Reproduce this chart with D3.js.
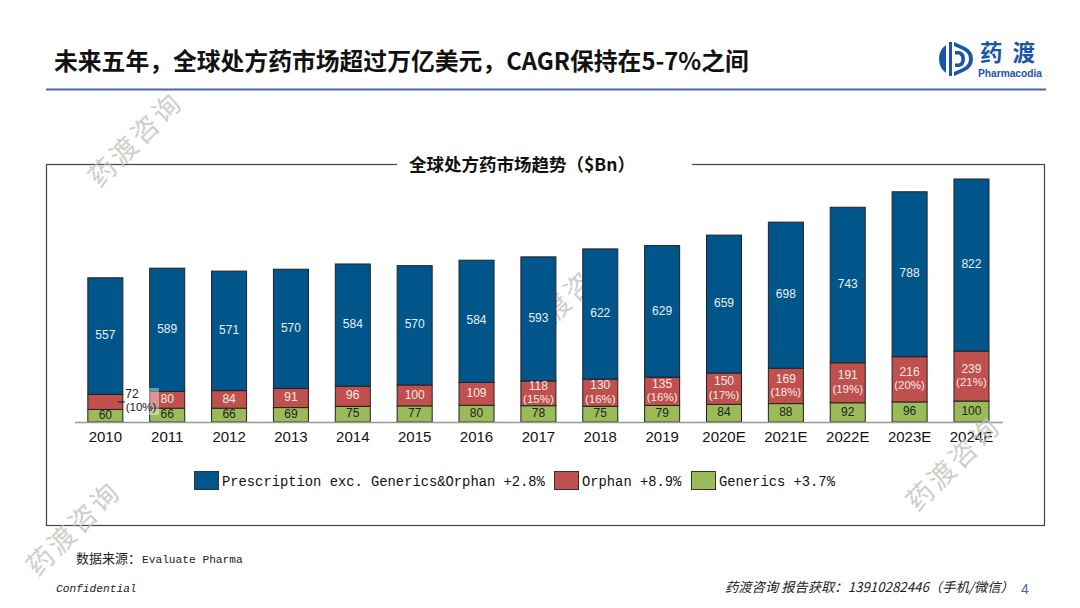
<!DOCTYPE html>
<html lang="zh-CN">
  <head>
    <meta charset="UTF-8" />
    <title>全球处方药市场趋势</title>
    <style>
      html, body { margin: 0; padding: 0; background: #fff; }
      svg { display: block; }
      text { font-family: "Noto Sans CJK SC", "Noto Sans", sans-serif; }
      .latin { font-family: "Liberation Sans", "Noto Sans CJK SC", sans-serif; }
      .mono { font-family: "Liberation Mono", "Noto Sans CJK SC", monospace; }
    </style>
  </head>
  <body>
    <svg width="1080" height="608"></svg>
    <script src="https://cdn.jsdelivr.net/npm/d3@7"></script>
    <script>
      const years = ["2010","2011","2012","2013","2014","2015","2016","2017","2018","2019","2020E","2021E","2022E","2023E","2024E"];
      const generics = [60,66,66,69,75,77,80,78,75,79,84,88,92,96,100];
      const orphan = [72,80,84,91,96,100,109,118,130,135,150,169,191,216,239];
      const prescription = [557,589,571,570,584,570,584,593,622,629,659,698,743,788,822];
      const orphanShare = [10,null,null,null,null,null,null,15,16,16,17,18,19,20,21];
      const seriesNames = ["Generics","Orphan","Prescription"];
      const legendLabels = ["Prescription exc. Generics&Orphan +2.8%","Orphan +8.9%","Generics +3.7%"];

      const colors = { Prescription: "#00558a", Orphan: "#c0504d", Generics: "#9bbb59" };
      const textColors = { Prescription: "#e8f1f6", Orphan: "#fbeaea", Generics: "#222" };

      const svg = d3.select("svg");

      // header
      svg.append("text").attr("x", 54).attr("y", 70)
        .attr("font-size", 23.8).attr("font-weight", 700).attr("fill", "#111")
        .text("未来五年，全球处方药市场超过万亿美元，CAGR保持在5-7%之间");
      svg.append("line").attr("x1", 46).attr("x2", 1046).attr("y1", 89.5).attr("y2", 89.5)
        .attr("stroke", "#4a66ac").attr("stroke-width", 2);

      // logo
      const logo = svg.append("g").attr("transform", "translate(956,59)").attr("fill", "#1a55a8");
      logo.append("path").attr("d", "M-10,-14 L-10,14 Q-17,9 -17,0 Q-17,-9 -10,-14 Z");
      logo.append("path").attr("d", "M-7,-17 L-4,-17 L-4,17 L-7,17 Z");
      logo.append("path").attr("d", "M-2,-17 L9,-12 Q17,-8 17,0 Q17,8 9,12 L-2,17 L-2,13 L7,9 Q13,6 13,0 Q13,-6 7,-9 L-2,-13 Z");
      logo.append("path").attr("d", "M-1,-8 L3,-8 Q9,-7 9,0 Q9,7 3,8 L-1,8 L-1,4.5 L3,4.5 Q5.5,3 5.5,0 Q5.5,-3 3,-4.5 L-1,-4.5 Z");
      svg.append("text").attr("x", 980).attr("y", 61).attr("font-size", 22.5).attr("font-weight", 700)
        .attr("letter-spacing", 10).attr("fill", "#1a55a8").text("药渡");
      svg.append("text").attr("class", "latin").attr("x", 978).attr("y", 77).attr("font-size", 10.2)
        .attr("font-weight", 700).attr("fill", "#1a55a8").text("Pharmacodia");

      // chart frame, with a gap for its title
      svg.append("rect").attr("x", 46.5).attr("y", 164.5).attr("width", 998).attr("height", 361)
        .attr("fill", "none").attr("stroke", "#444").attr("stroke-width", 1.2);
      svg.append("rect").attr("x", 397).attr("y", 158).attr("width", 295).attr("height", 14).attr("fill", "#fff");
      svg.append("text").attr("x", 409).attr("y", 170.5).attr("font-size", 17.5).attr("font-weight", 700)
        .attr("fill", "#111").text("全球处方药市场趋势（$Bn）");

      // watermarks
      function watermark(x, y) {
        svg.append("text").attr("transform", `translate(${x},${y}) rotate(-45)`)
          .attr("text-anchor", "middle").attr("dominant-baseline", "middle")
          .attr("font-size", 27).attr("letter-spacing", 3).attr("fill", "#c4c4bc").attr("opacity", 0.8)
          .text("药渡咨询");
      }
      watermark(570, 298);

      // scales
      const x = d3.scaleBand().domain(years).range([74.4, 1002.4]).paddingInner(0.434).paddingOuter(0.217);
      const totals = years.map((_, i) => generics[i] + orphan[i] + prescription[i]);
      const y = d3.scaleLinear().domain([0, d3.max(totals)]).range([422, 179]);

      const table = years.map((year, i) => ({
        year, Generics: generics[i], Orphan: orphan[i], Prescription: prescription[i], share: orphanShare[i]
      }));
      const stacked = d3.stack().keys(seriesNames)(table);

      const layers = svg.selectAll(".layer").data(stacked).enter().append("g")
        .attr("class", "layer").attr("fill", (d) => colors[d.key]);

      layers.selectAll("rect").data((d) => d).enter().append("rect")
        .attr("x", (d) => x(d.data.year))
        .attr("width", x.bandwidth())
        .attr("y", (d) => y(d[1]))
        .attr("height", (d) => y(d[0]) - y(d[1]))
        .attr("stroke", "#222").attr("stroke-width", 1);

      // value labels
      stacked.forEach((layer) => {
        layer.forEach((d) => {
          const cx = x(d.data.year) + x.bandwidth() / 2;
          const cy = (y(d[0]) + y(d[1])) / 2;
          const value = d.data[layer.key];
          if (layer.key === "Orphan" && d.data.year === "2010") return; // called out beside the bar
          const hasShare = layer.key === "Orphan" && d.data.share !== null;
          svg.append("text").attr("class", "latin")
            .attr("x", cx).attr("y", hasShare ? cy - 6.5 : cy)
            .attr("text-anchor", "middle").attr("dominant-baseline", "middle")
            .attr("font-size", 12).attr("fill", textColors[layer.key]).text(value);
          if (hasShare) {
            svg.append("text").attr("class", "latin")
              .attr("x", cx).attr("y", cy + 7)
              .attr("text-anchor", "middle").attr("dominant-baseline", "middle")
              .attr("font-size", 11.5).attr("fill", textColors[layer.key]).text(`(${d.data.share}%)`);
          }
        });
      });

      // 2010 orphan callout
      const orphan2010 = stacked[1][0];
      const calloutY = (y(orphan2010[0]) + y(orphan2010[1])) / 2;
      const calloutX = x("2010") + x.bandwidth();
      svg.append("line").attr("x1", calloutX - 5).attr("x2", calloutX + 2)
        .attr("y1", calloutY).attr("y2", calloutY).attr("stroke", "#111");
      svg.append("rect").attr("x", 149).attr("y", 388).attr("width", 10).attr("height", 27)
        .attr("fill", "#fff").attr("opacity", 0.4);
      svg.append("text").attr("class", "latin").attr("x", 132).attr("y", 395)
        .attr("text-anchor", "middle").attr("dominant-baseline", "middle")
        .attr("font-size", 12).attr("fill", "#222").text(orphan[0]);
      svg.append("text").attr("class", "latin").attr("x", 141).attr("y", 408)
        .attr("text-anchor", "middle").attr("dominant-baseline", "middle")
        .attr("font-size", 11.5).attr("fill", "#222").text(`(${orphanShare[0]}%)`);

      // x axis
      const axis = svg.append("g").attr("transform", "translate(0,422)")
        .call(d3.axisBottom(x).tickSize(0).tickPadding(8));
      axis.select(".domain").attr("stroke", "#999").attr("stroke-width", 1.5);
      axis.selectAll("text").attr("class", "latin").attr("font-size", 15).attr("fill", "#111")
        .attr("dy", "0.77em")
        .style("font-family", '"Liberation Sans", sans-serif');

      // legend
      const legendX = [194, 554, 691];
      const legendKeys = ["Prescription", "Orphan", "Generics"];
      legendKeys.forEach((key, i) => {
        svg.append("rect").attr("x", legendX[i] + 0.5).attr("y", 471.5).attr("width", 24).attr("height", 18)
          .attr("fill", colors[key]).attr("stroke", "#333");
        svg.append("text").attr("class", "mono").attr("x", legendX[i] + 28).attr("y", 486)
          .attr("font-size", 13.8).attr("fill", "#111").text(legendLabels[i]);
      });

      // footer
      svg.append("text").attr("x", 76).attr("y", 563).attr("font-size", 13).attr("fill", "#222").text("数据来源：");
      svg.append("text").attr("class", "mono").attr("x", 142).attr("y", 563).attr("font-size", 11.2).attr("fill", "#222").text("Evaluate Pharma");
      svg.append("text").attr("class", "mono").attr("x", 56).attr("y", 592).attr("font-size", 11.2)
        .attr("font-style", "italic").attr("fill", "#222").text("Confidential");
      svg.append("text").attr("x", 725).attr("y", 592).attr("font-size", 13.3).attr("font-style", "italic")
        .attr("fill", "#222").text("药渡咨询 报告获取：13910282446（手机/微信）");
      svg.append("text").attr("class", "latin").attr("x", 1021).attr("y", 594).attr("font-size", 14)
        .attr("fill", "#4a66ac").text("4");

      watermark(137, 141);
      watermark(75, 530);
      watermark(955, 465);
    </script>
  </body>
</html>
